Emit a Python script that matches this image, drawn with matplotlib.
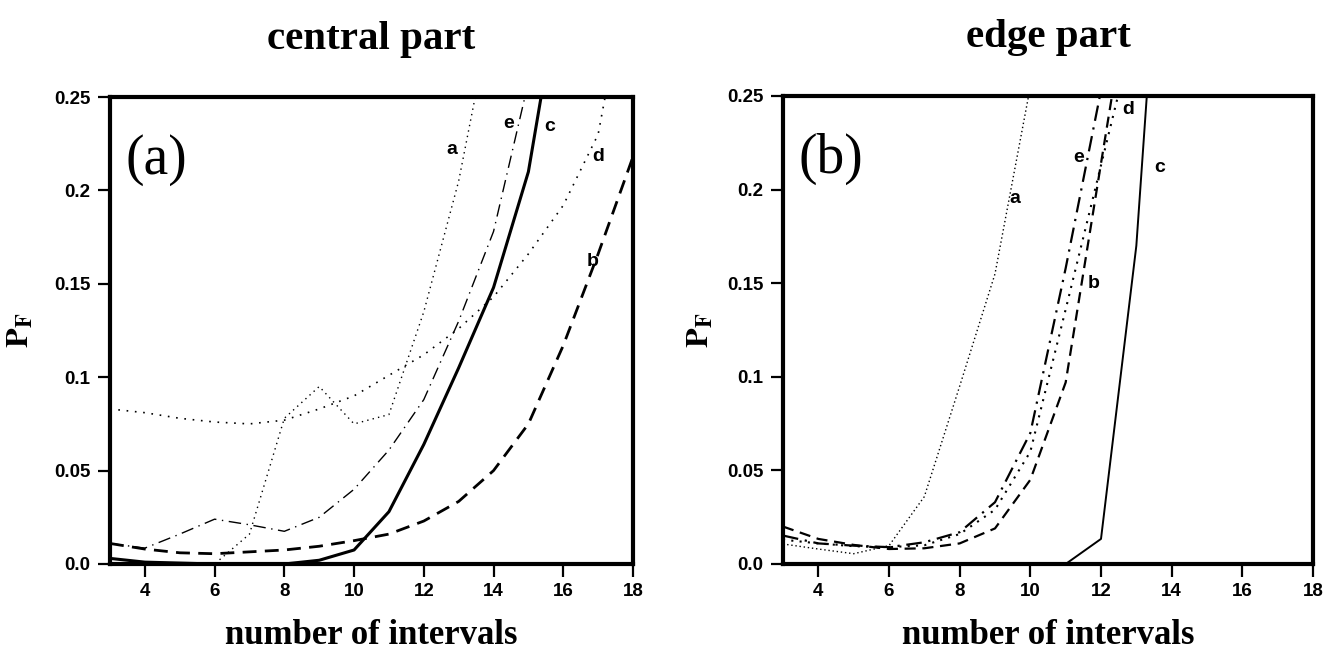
import numpy as np
import matplotlib.pyplot as plt

# number of intervals
x = [3, 4, 5, 6, 7, 8, 9, 10, 11, 12, 13, 14, 15, 16, 17, 18]

# (a) central part
ca_a = [0.0, 0.0, 0.0, 0.0, 0.016, 0.078, 0.095, 0.075, 0.080, 0.135, 0.205, 0.300]
ca_b = [0.011, 0.008, 0.006, 0.0055, 0.0065, 0.0075, 0.0095, 0.0125, 0.016, 0.023, 0.0335,
        0.050, 0.075, 0.117, 0.166, 0.218]
ca_c = [0.003, 0.001, 0.0005, 0.0, 0.0, 0.0, 0.002, 0.0075, 0.028, 0.064, 0.105, 0.148,
        0.210, 0.320]
ca_d = [0.083, 0.081, 0.078, 0.076, 0.075, 0.077, 0.083, 0.090, 0.101, 0.112, 0.126, 0.143,
        0.166, 0.192, 0.230, 0.330]
ca_e = [0.011, 0.0085, 0.016, 0.024, 0.021, 0.0175, 0.025, 0.040, 0.061, 0.088, 0.130, 0.178,
        0.258]

# (b) edge part
ed_a = [0.0107, 0.008, 0.0055, 0.0098, 0.036, 0.095, 0.155, 0.255]
ed_b = [0.020, 0.0134, 0.0102, 0.008, 0.0084, 0.011, 0.019, 0.045, 0.097, 0.214, 0.330]
ed_c = [0.0, 0.0, 0.0, 0.0, 0.0, 0.0, 0.0, 0.0, 0.0, 0.0134, 0.170, 0.440]
ed_d = [0.013, 0.011, 0.0095, 0.009, 0.010, 0.016, 0.029, 0.060, 0.136, 0.213, 0.290]
ed_e = [0.0152, 0.011, 0.0098, 0.009, 0.0116, 0.017, 0.033, 0.070, 0.158, 0.253]

# curve labels: (text, x, y)
labels_a = [('a', 12.8, 0.222), ('e', 14.42, 0.236), ('c', 15.6, 0.234),
            ('d', 17.0, 0.218), ('b', 16.83, 0.162)]
labels_b = [('a', 9.56, 0.195), ('e', 11.38, 0.217), ('c', 13.67, 0.212),
            ('b', 11.78, 0.150), ('d', 12.76, 0.243)]

xticks = [4, 6, 8, 10, 12, 14, 16, 18]
yticks = [0.0, 0.05, 0.1, 0.15, 0.2, 0.25]
ytick_labels = ['0.0', '0.05', '0.1', '0.15', '0.2', '0.25']

plt.rcParams['mathtext.fontset'] = 'stix'
SERIF = 'Liberation Serif'
SANS = 'Liberation Sans'

fig = plt.figure(figsize=(13.39, 6.58), dpi=100)
ax1 = fig.add_axes([110/1339, 94/658, 523/1339, 467/658])
ax2 = fig.add_axes([783/1339, 94/658, 530/1339, 468/658])


def n(v):
    return x[:len(v)]


# left panel
ax1.plot(n(ca_a), ca_a, color='k', lw=1.0, ls=(0, (1, 3)))
ax1.plot(n(ca_d), ca_d, color='k', lw=1.2, ls=(0, (1, 4)))
ax1.plot(n(ca_e), ca_e, color='k', lw=1.0, ls=(0, (9, 4, 1, 4)))
ax1.plot(n(ca_c), ca_c, color='k', lw=2.2, ls='-')
ax1.plot(n(ca_b), ca_b, color='k', lw=2.0, ls=(0, (5, 3)))

# right panel
ax2.plot(n(ed_a), ed_a, color='k', lw=1.0, ls=(0, (1, 2)))
ax2.plot(n(ed_d), ed_d, color='k', lw=1.5, ls=(0, (1, 3)))
ax2.plot(n(ed_e), ed_e, color='k', lw=1.6, ls=(0, (7, 3, 1, 3)))
ax2.plot(n(ed_b), ed_b, color='k', lw=1.6, ls=(0, (5, 3)))
ax2.plot(n(ed_c), ed_c, color='k', lw=1.4, ls='-')

for ax, title, tag, labs, ylx in [(ax1, 'central part', '(a)', labels_a, -0.142),
                                  (ax2, 'edge part', '(b)', labels_b, -0.126)]:
    ax.set_xlim(3, 18)
    ax.set_ylim(0, 0.25)
    ax.set_xticks(xticks)
    ax.set_yticks(yticks)
    ax.set_yticklabels(ytick_labels)
    for lab in ax.get_xticklabels() + ax.get_yticklabels():
        lab.set_fontfamily(SANS)
        lab.set_fontweight('bold')
        lab.set_fontsize(13.5)
    ax.tick_params(axis='both', direction='out', length=9, width=1.6, pad=5)
    for s in ax.spines.values():
        s.set_linewidth(3)
    ax.text(0.5, 1.124, title, transform=ax.transAxes, ha='center', va='center',
            fontsize=29.5, fontweight='bold', family=SERIF)
    ax.text(0.03, 0.865, tag, transform=ax.transAxes, ha='left', va='center',
            fontsize=40, family=SERIF)
    ax.set_xlabel('number of intervals', fontsize=25, fontweight='bold', family=SERIF)
    ax.xaxis.set_label_coords(0.5, -0.118)
    ax.set_ylabel(r'$\mathbf{P}_{\mathbf{F}}$', fontsize=23)
    ax.yaxis.set_label_coords(ylx, 0.5)
    for t, lx, ly in labs:
        ax.text(lx, ly, t, ha='center', va='center', fontsize=14,
                fontweight='bold', family=SANS)

fig.savefig('out.png', dpi=100)
